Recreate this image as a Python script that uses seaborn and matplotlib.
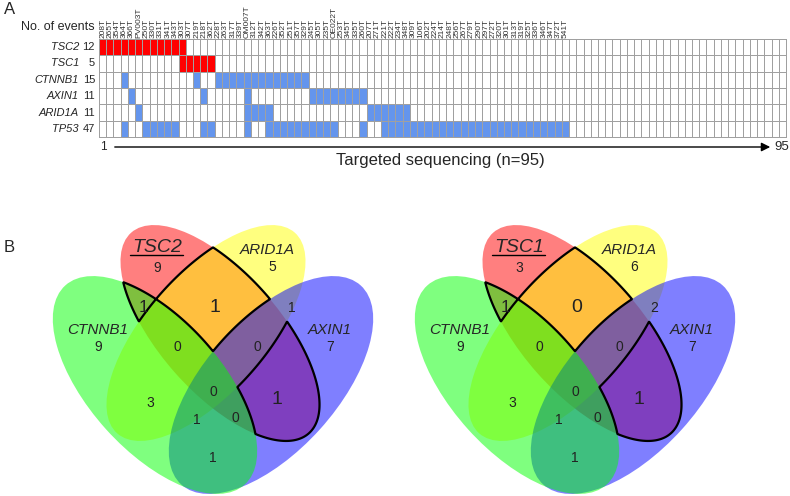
import numpy as np
import pandas as pd
import matplotlib
matplotlib.use("Agg")
import matplotlib.pyplot as plt
from matplotlib.colors import ListedColormap
from matplotlib.patches import Ellipse
import seaborn as sns

# ---------------- data ----------------
genes = ["TSC2", "TSC1", "CTNNB1", "AXIN1", "ARID1A", "TP53"]
n_events = [12, 5, 15, 11, 11, 47]
n_samples = 95

# mutated samples per gene as (first, last) column runs
tsc2_runs = [(0, 11)]
tsc1_runs = [(11, 15)]
ctnnb1_runs = [(3, 3), (13, 13), (16, 28)]
axin1_runs = [(4, 4), (14, 14), (20, 20), (29, 36)]
arid1a_runs = [(5, 5), (20, 23), (37, 42)]
tp53_runs = [(3, 3), (6, 10), (14, 15), (20, 20), (23, 32), (36, 36), (39, 64)]

sample_ids = ["208T", "265T", "354T", "364T", "366T", "PV003T", "250T", "330T",
              "331T", "341T", "343T", "303T", "307T", "219T", "218T", "362T",
              "228T", "263T", "317T", "339T", "OM007T", "312T", "342T", "363T",
              "226T", "352T", "251T", "357T", "329T", "245T", "305T", "235T",
              "OE022T", "253T", "345T", "335T", "260T", "207T", "271T", "221T",
              "222T", "234T", "348T", "309T", "106T", "202T", "224T", "214T",
              "248T", "256T", "267T", "279T", "290T", "297T", "272T", "320T",
              "301T", "313T", "319T", "325T", "336T", "346T", "347T", "372T",
              "541T"]

# venn regions: C=CTNNB1, T=TSC2/TSC1, A=ARID1A, X=AXIN1
venn_regions = ["C", "T", "A", "X", "CT", "TA", "AX", "CTA", "TAX", "CA",
                "CTAX", "TX", "CAX", "CTX", "CX"]
venn_tsc2 = [9, 9, 5, 7, 1, 1, 1, 0, 0, 3, 0, 1, 1, 0, 1]
venn_tsc1 = [9, 3, 6, 7, 1, 0, 2, 0, 0, 3, 0, 1, 1, 0, 1]
names_tsc2 = ["CTNNB1", "TSC2", "ARID1A", "AXIN1"]
names_tsc1 = ["CTNNB1", "TSC1", "ARID1A", "AXIN1"]

# ---------------- layout ----------------
W, H = 790, 496
# ellipses relative to diagram centre (px): dx, dy, a, b, angle
shape = {"C": (-58, -7, 134, 66, 48), "T": (7, -59, 134, 60, 48.5),
         "A": (-7, -59, 134, 60, -48.5), "X": (58, -7, 134, 66, -48)}
fill = {"C": "#00ff00", "T": "#ff0000", "A": "#ffff00", "X": "#0000ff"}
draw_order = ["T", "A", "X", "C"]
num_pos = {"C": (-115, -45), "T": (-56, -124), "A": (59, -125), "X": (117, -45),
           "CT": (-70, -85), "TA": (2, -85), "AX": (79, -84), "CTA": (-36, -45),
           "TAX": (44, -45), "CA": (-63, 11), "CTAX": (0, 0), "TX": (64, 8),
           "CAX": (-16, 28), "CTX": (22, 26), "CX": (0, 66)}
num_size = {"CT": 12.5, "TA": 14, "TX": 14}
name_pos = {"C": (-115, -62), "T": (-56, -145), "A": (54, -142), "X": (117, -62)}
outlined = ["CT", "TA", "TX"]

sns.set_style("white")
plt.rcParams["font.family"] = ["Liberation Sans", "DejaVu Sans"]

fig = plt.figure(figsize=(W / 100, H / 100), dpi=100)

# ---------------- panel A: mutation grid ----------------
runs = [tsc2_runs, tsc1_runs, ctnnb1_runs, axin1_runs, arid1a_runs, tp53_runs]
code = [1, 1, 2, 2, 2, 2]
mat = np.zeros((len(genes), n_samples), dtype=int)
for i, (gene_runs, c) in enumerate(zip(runs, code)):
    for s, e in gene_runs:
        mat[i, s:e + 1] = c
grid = pd.DataFrame(mat, index=genes)

ax_hm = fig.add_axes([99 / W, 1 - 137 / H, 687 / W, 98 / H])
xlabels = sample_ids + [""] * (n_samples - len(sample_ids))
sns.heatmap(grid, ax=ax_hm, cmap=ListedColormap(["white", "#ff0000", "#6495ed"]),
            vmin=0, vmax=2, cbar=False, linewidths=0.6, linecolor="#a0a0a0",
            xticklabels=xlabels, yticklabels=False)
ax_hm.collections[0].set_clip_on(False)
ax_hm.xaxis.tick_top()
ax_hm.set_xticklabels(xlabels, rotation=90, fontsize=6, color="#333333")
ax_hm.tick_params(length=0, pad=1)
ax_hm.set_xlabel("")
ax_hm.set_ylabel("")

# overlay in pixel coordinates for the free text and the venn diagrams
ax = fig.add_axes([0, 0, 1, 1])
ax.set_xlim(0, W)
ax.set_ylim(H, 0)
ax.set_axis_off()

ax.text(4, 10, "A", fontsize=12, va="center")
ax.text(95, 27, "No. of events", fontsize=9, ha="right", va="center")
row_h = 98 / len(genes)
for i, (g, n) in enumerate(zip(genes, n_events)):
    y = 39 + row_h * (i + 0.5)
    ax.text(79, y, g, fontsize=8, style="italic", ha="right", va="center")
    ax.text(95, y, str(n), fontsize=8, ha="right", va="center")

ax.annotate("", xy=(773, 147), xytext=(112, 147),
            arrowprops=dict(arrowstyle="-|>", color="black", lw=1, mutation_scale=13))
ax.text(103, 147, "1", fontsize=8.5, ha="center", va="center")
ax.text(774, 147, "95", fontsize=9.5, ha="left", va="center")
ax.text(440, 161, "Targeted sequencing (n=95)", fontsize=12, ha="center", va="center")

# ---------------- panel B: venn diagrams ----------------
ax.text(4, 248, "B", fontsize=12, va="center")


def ellipse_level(gx, gy, cx, cy, a, b, ang):
    t = np.deg2rad(ang)
    u = (gx - cx) * np.cos(t) + (gy - cy) * np.sin(t)
    v = -(gx - cx) * np.sin(t) + (gy - cy) * np.cos(t)
    return 1 - (u / a) ** 2 - (v / b) ** 2


def draw_venn(x0, y0, names, counts):
    for k in draw_order:
        dx, dy, a, b, ang = shape[k]
        ax.add_patch(Ellipse((x0 + dx, y0 + dy), 2 * a, 2 * b, angle=ang,
                             facecolor=fill[k], alpha=0.5, lw=0))
    gx, gy = np.meshgrid(np.linspace(x0 - 180, x0 + 180, 900),
                         np.linspace(y0 - 175, y0 + 110, 700))
    lev = {}
    for k, (dx, dy, a, b, ang) in shape.items():
        lev[k] = ellipse_level(gx, gy, x0 + dx, y0 + dy, a, b, ang)
    # thick outline round the TSC-only overlaps
    for reg in outlined:
        f = np.minimum.reduce([lev[k] if k in reg else -lev[k] for k in "CTAX"])
        ax.contour(gx, gy, f, levels=[0], colors="black", linewidths=1.6)

    for reg, val in zip(venn_regions, counts):
        dx, dy = num_pos[reg]
        ax.text(x0 + dx, y0 + dy, str(val), ha="center", va="center",
                fontsize=num_size.get(reg, 10), color="#222222")
    for k, nm in zip("CTAX", names):
        dx, dy = name_pos[k]
        ax.text(x0 + dx, y0 + dy, nm, ha="center", va="center", style="italic",
                fontsize=14 if k == "T" else 11)
    ax.plot([x0 - 83, x0 - 30], [y0 - 137, y0 - 137], color="black", lw=1)


draw_venn(213, 392, names_tsc2, venn_tsc2)
draw_venn(575, 392, names_tsc1, venn_tsc1)

fig.savefig("out.png", dpi=100)
